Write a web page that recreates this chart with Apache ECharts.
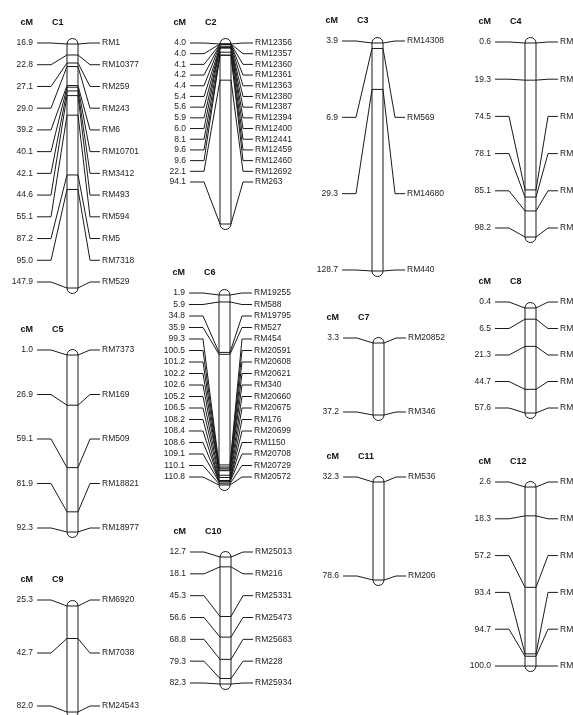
<!DOCTYPE html>
<html><head><meta charset="utf-8">
<script src="https://cdn.jsdelivr.net/npm/echarts@6/dist/echarts.min.js"></script>
<style>html,body{margin:0;padding:0;background:#fff}#chart{width:573px;height:715px}</style>
</head><body><div id="chart"></div>
<script>
// ---- data: marker positions (cM) and marker names per chromosome ----
const chromNames = ['C1','C2','C3','C4','C5','C6','C7','C8','C9','C10','C11','C12'];

const c1Pos = [16.9, 22.8, 27.1, 29.0, 39.2, 40.1, 42.1, 44.6, 55.1, 87.2, 95.0, 147.9];
const c1Names = ['RM1','RM10377','RM259','RM243','RM6','RM10701','RM3412','RM493','RM594','RM5','RM7318','RM529'];

const c2Pos = [4.0, 4.0, 4.1, 4.2, 4.4, 5.4, 5.6, 5.9, 6.0, 8.1, 9.6, 9.6, 22.1, 94.1];
const c2Names = ['RM12356','RM12357','RM12360','RM12361','RM12363','RM12380','RM12387','RM12394','RM12400','RM12441','RM12459','RM12460','RM12692','RM263'];

const c3Pos = [3.9, 6.9, 29.3, 128.7];
const c3Names = ['RM14308','RM569','RM14680','RM440'];

const c4Pos = [0.6, 19.3, 74.5, 78.1, 85.1, 98.2];
const c4Names = ['RM551','RM16427','RM17007','RM17086','RM17377','RM3524'];

const c5Pos = [1.0, 26.9, 59.1, 81.9, 92.3];
const c5Names = ['RM7373','RM169','RM509','RM18821','RM18977'];

const c6Pos = [1.9, 5.9, 34.8, 35.9, 99.3, 100.5, 101.2, 102.2, 102.6, 105.2, 106.5, 108.2, 108.4, 108.6, 109.1, 110.1, 110.8];
const c6Names = ['RM19255','RM588','RM19795','RM527','RM454','RM20591','RM20608','RM20621','RM340','RM20660','RM20675','RM176','RM20699','RM1150','RM20708','RM20729','RM20572'];

const c7Pos = [3.3, 37.2];
const c7Names = ['RM20852','RM346'];

const c8Pos = [0.4, 6.5, 21.3, 44.7, 57.6];
const c8Names = ['RM408','RM3702','RM1376','RM3754','RM3120'];

const c9Pos = [25.3, 42.7, 82.0];
const c9Names = ['RM6920','RM7038','RM24543'];

const c10Pos = [12.7, 18.1, 45.3, 56.6, 68.8, 79.3, 82.3];
const c10Names = ['RM25013','RM216','RM25331','RM25473','RM25683','RM228','RM25934'];

const c11Pos = [32.3, 78.6];
const c11Names = ['RM536','RM206'];

const c12Pos = [2.6, 18.3, 57.2, 93.4, 94.7, 100.0];
const c12Names = ['RM3331','RM3483','RM3246','RM1300','RM1337','RM3326'];

const allPos = [c1Pos,c2Pos,c3Pos,c4Pos,c5Pos,c6Pos,c7Pos,c8Pos,c9Pos,c10Pos,c11Pos,c12Pos];
const allNames = [c1Names,c2Names,c3Names,c4Names,c5Names,c6Names,c7Names,c8Names,c9Names,c10Names,c11Names,c12Names];

// ---- layout (pixels): bar left, first/last marker y, label spread offsets ----
const layouts = [
  {left:67,  top:44,  bottom:288, dt:-1, db:-6},
  {left:220, top:44,  bottom:224, dt:-1, db:-42},
  {left:372, top:43,  bottom:271, dt:-2, db:-1},
  {left:525, top:43,  bottom:237, dt:-1, db:-9},
  {left:67,  top:355, bottom:532, dt:-5, db:-4},
  {left:219, top:295, bottom:485, dt:-2, db:-8},
  {left:373, top:343, bottom:415, dt:-5, db:-3},
  {left:525, top:308, bottom:413, dt:-6, db:-5},
  {left:67,  top:606, bottom:712, dt:-6, db:-6},
  {left:220, top:557, bottom:684, dt:-5, db:-1},
  {left:373, top:482, bottom:580, dt:-5, db:-4},
  {left:525, top:487, bottom:666, dt:-5, db:0}
];
const BAR_W = 11;
const FONT = '8.5px "Liberation Sans", Arial, sans-serif';
const FONT_B = 'bold 9px "Liberation Sans", Arial, sans-serif';
const INK = '#1a1a1a';
const TXT = '#222';

const grids = [], xAxes = [], yAxes = [], series = [];

allPos.forEach(function (pos, i) {
  const L = layouts[i];
  const names = allNames[i];
  const n = pos.length;
  grids.push({left: L.left, top: L.top, width: BAR_W, height: L.bottom - L.top});
  xAxes.push({gridIndex: i, type: 'value', min: 0, max: 1, show: false});
  yAxes.push({gridIndex: i, type: 'value', inverse: true, min: pos[0], max: pos[n - 1], show: false});

  function labelY(k, api) {
    const yF = api.coord([0, pos[0]])[1] + L.dt;
    const yL = api.coord([0, pos[n - 1]])[1] + L.db;
    return n > 1 ? yF + k * (yL - yF) / (n - 1) : yF;
  }

  // chromosome body + header
  series.push({
    type: 'custom', xAxisIndex: i, yAxisIndex: i, clip: false, silent: true,
    data: [[0.5, pos[0], pos[n - 1]]],
    renderItem: function (params, api) {
      const a = api.coord([0, api.value(1)]);
      const b = api.coord([1, api.value(2)]);
      const w = b[0] - a[0];
      const r = w / 2;
      const hy = labelY(0, api) - 20;
      return {
        type: 'group',
        children: [
          {type: 'rect', shape: {x: a[0], y: a[1] - r, width: w, height: b[1] - a[1] + 2 * r, r: r},
           style: {fill: '#fff', stroke: INK, lineWidth: 1}},
          {type: 'text', x: a[0] - 34, y: hy,
           style: {text: 'cM', font: FONT_B, fill: '#111', align: 'right', verticalAlign: 'middle'}},
          {type: 'text', x: a[0] - 15, y: hy,
           style: {text: chromNames[i], font: FONT_B, fill: '#111', align: 'left', verticalAlign: 'middle'}}
        ]
      };
    }
  });

  // markers: band, connectors, labels
  series.push({
    type: 'custom', xAxisIndex: i, yAxisIndex: i, clip: false, silent: true,
    data: pos.map(function (p, k) { return [0.5, p, k]; }),
    renderItem: function (params, api) {
      const p = api.value(1), k = api.value(2);
      const l = api.coord([0, p]), rr = api.coord([1, p]);
      const xl = l[0], xr = rr[0], ym = l[1];
      const ly = labelY(k, api);
      return {
        type: 'group',
        children: [
          {type: 'line', shape: {x1: xl, y1: ym, x2: xr, y2: ym}, style: {stroke: INK, lineWidth: 1}},
          {type: 'polyline', shape: {points: [[xl - 30, ly], [xl - 16, ly], [xl, ym]]},
           style: {stroke: INK, lineWidth: 1, fill: null}},
          {type: 'polyline', shape: {points: [[xr, ym], [xr + 12, ly], [xr + 22, ly]]},
           style: {stroke: INK, lineWidth: 1, fill: null}},
          {type: 'text', x: xl - 34, y: ly,
           style: {text: p.toFixed(1), font: FONT, fill: TXT, align: 'right', verticalAlign: 'middle'}},
          {type: 'text', x: xr + 24, y: ly,
           style: {text: names[k], font: FONT, fill: TXT, align: 'left', verticalAlign: 'middle'}}
        ]
      };
    }
  });
});

const chart = echarts.init(document.getElementById('chart'), null, {renderer: 'canvas'});
chart.setOption({
  animation: false,
  backgroundColor: '#fff',
  grid: grids,
  xAxis: xAxes,
  yAxis: yAxes,
  series: series
});
</script>
</body></html>
